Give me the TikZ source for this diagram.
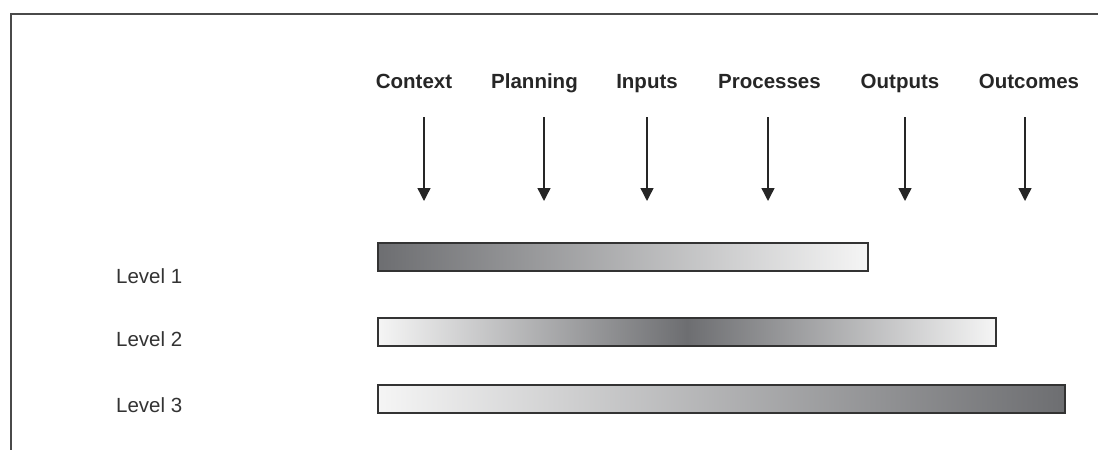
\documentclass[tikz,border=0pt]{standalone}
\usepackage{fontspec}
\setmainfont{Liberation Sans}
\usetikzlibrary{arrows.meta}
\definecolor{bardark}{HTML}{6D6E71}
\definecolor{barlight}{HTML}{F5F5F5}
\definecolor{frame}{HTML}{4A4A4A}
\tikzset{
  stage/.style={font=\fontsize{20.5}{24}\selectfont\bfseries, text=black!85, anchor=base, inner sep=0pt},
  levellabel/.style={font=\fontsize{20.5}{24}\selectfont, text=black!80, anchor=base west, inner sep=0pt},
  feed/.style={line width=1.4pt, draw=black!85, -{Triangle[length=13pt,width=13pt]}},
  bar/.style={draw=black!80, line width=1.5pt, anchor=north west, inner sep=0pt, outer sep=0pt, minimum height=28pt},
}
\begin{document}
\begin{tikzpicture}[x=1pt,y=-1pt]
\useasboundingbox (0,0) rectangle (1098,450);
% frame
\draw[frame, line width=1.5pt] (1098,14) -- (11,14) -- (11,450);

% stage headings
\node[stage] (ctx)  at (414,88)   {Context};
\node[stage] (plan) at (534.5,88) {Planning};
\node[stage] (inp)  at (647,88)   {Inputs};
\node[stage] (proc) at (769.5,88) {Processes};
\node[stage] (outp) at (900,88)   {Outputs};
\node[stage] (outc) at (1029,88)  {Outcomes};

% downward arrows
\foreach \n/\x in {a/424, b/544, c/647, d/768, e/905, f/1025}{
  \coordinate (top\n) at (\x,117);
  \coordinate (tip\n) at (\x,201);
  \draw[feed] (top\n) -- (tip\n);
}

% level labels
\node[levellabel] (l1) at (116,283) {Level 1};
\node[levellabel] (l2) at (116,346) {Level 2};
\node[levellabel] (l3) at (116,412) {Level 3};

% shaded bars
\node[bar, minimum width=490pt, left color=bardark, right color=barlight] (bar1) at (378,243) {};
\node[bar, minimum width=618pt, left color=barlight, right color=barlight, middle color=bardark] (bar2) at (378,318) {};
\node[bar, minimum width=687pt, left color=barlight, right color=bardark] (bar3) at (378,385) {};
\end{tikzpicture}
\end{document}
